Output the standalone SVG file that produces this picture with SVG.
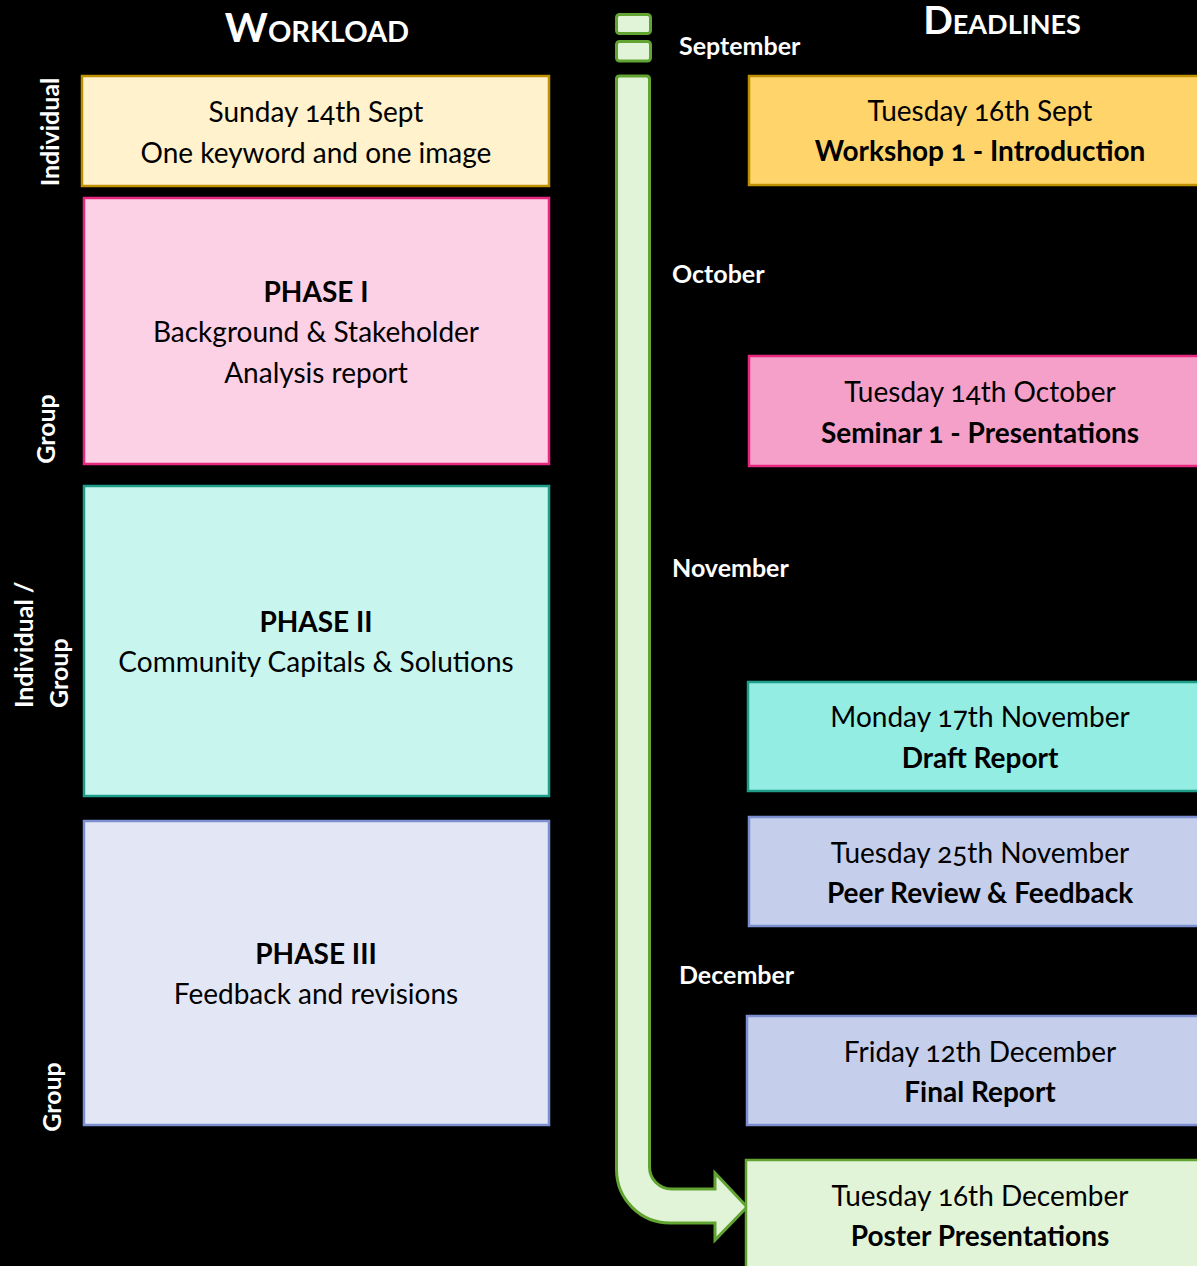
<svg xmlns="http://www.w3.org/2000/svg" width="1197" height="1266" viewBox="0 0 1197 1266">
<style>
.t{font-family:Lato,"Open Sans","Noto Sans",sans-serif;font-size:28px;fill:#000;text-anchor:middle;font-variant-numeric:oldstyle-nums}
.b{font-weight:bold}
.h{font-family:Lato,"Open Sans","Noto Sans",sans-serif;font-weight:bold;fill:#fff;font-variant:small-caps;text-anchor:middle}
.m{font-family:Lato,"Open Sans","Noto Sans",sans-serif;font-weight:bold;font-size:25px;fill:#fff}
.v{font-family:Lato,"Open Sans","Noto Sans",sans-serif;font-weight:bold;font-size:25px;fill:#fff}
.box{stroke-width:2.5}
.yl{fill:#FFF2CC;stroke:#BF9000}
.yd{fill:#FFD56B;stroke:#BF9000}
.pl{fill:#FCD0E5;stroke:#E8287F}
.pd{fill:#F5A0C9;stroke:#E8287F}
.cl{fill:#C9F5EF;stroke:#1E9E88}
.cd{fill:#93EDE3;stroke:#1E9E88}
.ll{fill:#E3E7F5;stroke:#7C8FD0}
.ld{fill:#C5CEEA;stroke:#7C8FD0}
.gl{fill:#E2F4D8;stroke:#62A432}
</style>
<rect x="0" y="0" width="1197" height="1266" fill="#000"/>

<text class="h" x="317" y="42" font-size="41">Workload</text>
<text class="h" x="1002" y="34" font-size="39">Deadlines</text>

<g id="labels">
<text class="v" transform="translate(59,132) rotate(-90)" text-anchor="middle">Individual</text>
<text class="v" transform="translate(55,429) rotate(-90)" text-anchor="middle">Group</text>
<text class="v" transform="translate(33,708) rotate(-90)" text-anchor="start">Individual /</text>
<text class="v" transform="translate(68,708) rotate(-90)" text-anchor="start">Group</text>
<text class="v" transform="translate(61,1097) rotate(-90)" text-anchor="middle">Group</text>
<text class="m" x="679" y="55">September</text>
<text class="m" x="672" y="283">October</text>
<text class="m" x="672" y="577">November</text>
<text class="m" x="679" y="984">December</text>
</g>

<g id="connectors">
<rect x="616.5" y="14.5" width="34" height="19" rx="3" class="gl" stroke-width="3"/>
<rect x="616.5" y="41.5" width="34" height="19.5" rx="3" class="gl" stroke-width="3"/>
<path class="gl" stroke-width="3" stroke-linejoin="miter" d="M616.5,79 Q616.5,76 619.5,76 L646.5,76 Q649.5,76 649.5,79 L649.5,1167 A22 22 0 0 0 671.5,1189 L715,1189 L715,1173 L747,1207 L715,1240 L715,1223 L670,1223 A53.5 53.5 0 0 1 616.5,1169.5 Z"/>
</g>

<g id="n-sunday">
<rect class="box yl" x="82" y="76" width="467" height="110"/>
<text class="t" x="316" y="122">Sunday 14th Sept</text>
<text class="t" x="316" y="163">One keyword and one image</text>
</g>
<g id="n-phase1">
<rect class="box pl" x="84" y="198" width="465" height="266"/>
<text class="t b" x="316" y="302">PHASE I</text>
<text class="t" x="316" y="342">Background &amp; Stakeholder</text>
<text class="t" x="316" y="383">Analysis report</text>
</g>
<g id="n-phase2">
<rect class="box cl" x="84" y="486" width="465" height="310"/>
<text class="t b" x="316" y="632">PHASE II</text>
<text class="t" x="316" y="672">Community Capitals &amp; Solutions</text>
</g>
<g id="n-phase3">
<rect class="box ll" x="84" y="821" width="465" height="304"/>
<text class="t b" x="316" y="964">PHASE III</text>
<text class="t" x="316" y="1004">Feedback and revisions</text>
</g>

<g id="n-workshop">
<rect class="box yd" x="749" y="76" width="460" height="109"/>
<text class="t" x="980" y="121">Tuesday 16th Sept</text>
<text class="t b" x="980" y="161">Workshop 1 - Introduction</text>
</g>
<g id="n-seminar">
<rect class="box pd" x="749" y="356" width="460" height="110"/>
<text class="t" x="980" y="402">Tuesday 14th October</text>
<text class="t b" x="980" y="443">Seminar 1 - Presentations</text>
</g>
<g id="n-draft">
<rect class="box cd" x="748" y="682" width="460" height="109"/>
<text class="t" x="980" y="727">Monday 17th November</text>
<text class="t b" x="980" y="768">Draft Report</text>
</g>
<g id="n-peer">
<rect class="box ld" x="749" y="817" width="460" height="109"/>
<text class="t" x="980" y="863">Tuesday 25th November</text>
<text class="t b" x="980" y="903">Peer Review &amp; Feedback</text>
</g>
<g id="n-final">
<rect class="box ld" x="747" y="1016" width="460" height="109"/>
<text class="t" x="980" y="1062">Friday 12th December</text>
<text class="t b" x="980" y="1102">Final Report</text>
</g>
<g id="n-poster">
<rect class="box gl" x="746" y="1160" width="460" height="120"/>
<text class="t" x="980" y="1206">Tuesday 16th December</text>
<text class="t b" x="980" y="1246">Poster Presentations</text>
</g>
</svg>
